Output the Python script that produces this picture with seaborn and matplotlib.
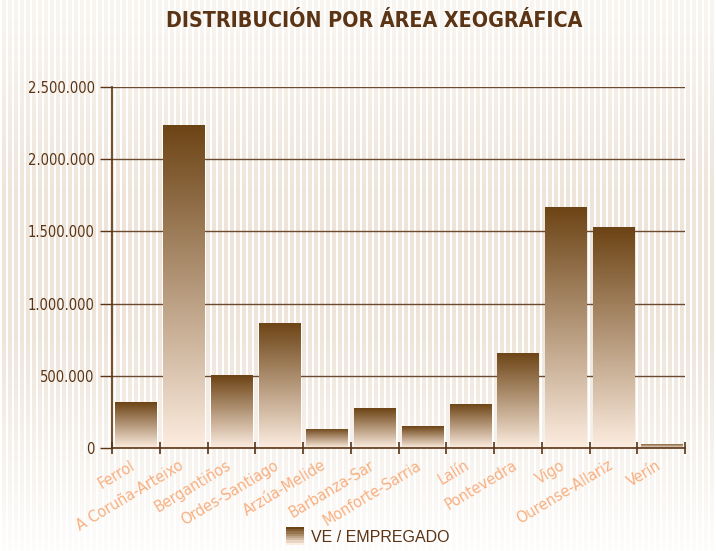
import numpy as np
import pandas as pd
import matplotlib
matplotlib.use("Agg")
import matplotlib.pyplot as plt
import matplotlib.transforms as mtransforms
import seaborn as sns
from matplotlib.colors import LinearSegmentedColormap, to_rgb
from matplotlib.legend_handler import HandlerBase
from matplotlib.patches import Rectangle, Patch
from matplotlib.ticker import FuncFormatter, FixedLocator

# ── data ──
areas = ["Ferrol", "A Coruña-Arteixo", "Bergantiños", "Ordes-Santiago",
         "Arzúa-Melide", "Barbanza-Sar", "Monforte-Sarria", "Lalín",
         "Pontevedra", "Vigo", "Ourense-Allariz", "Verín"]
ve_empregado = [318000, 2237000, 505000, 866000, 132000, 277000,
                152000, 305000, 658000, 1669000, 1530000, 28000]
series_name = "VE / EMPREGADO"
y_ticks = [0, 500000, 1000000, 1500000, 2000000, 2500000]

title = "DISTRIBUCIÓN POR ÁREA XEOGRÁFICA"

# ── style ──
DARK = "#5a3414"
GRID = "#6b4a30"
PEACH = "#f7b081"
BAR_TOP = "#6c4314"
BAR_BOT = "#fdede0"
NARROW = ["DejaVu Sans"]

sns.set_theme(style="white")
plt.rcParams["font.family"] = ["Liberation Sans", "DejaVu Sans"]

W, H, DPI = 716, 551, 100
fig = plt.figure(figsize=(W / DPI, H / DPI), dpi=DPI)

# striped background fading towards the bottom
yy = np.arange(H)
fade = np.interp(yy, [0, 60, 200, 330, 470, 551], [0.30, 0.45, 0.85, 0.85, 0.35, 0.05])
stripe = ((np.arange(W) % 6) >= 2).astype(float)
beige = np.array(to_rgb("#ebe0d3"))
amount = fade[:, None] * stripe[None, :]
bg = 1 - amount[..., None] * (1 - beige[None, None, :])
fig.figimage(bg, xo=0, yo=0, origin="upper", zorder=-10)

ax = fig.add_axes([112 / W, 1 - 448 / H, 573 / W, 361 / H])
ax.set_facecolor("none")

df = pd.DataFrame({"area": areas, "value": ve_empregado})
sns.barplot(data=df, x="area", y="value", color=BAR_TOP, width=0.86,
            saturation=1, ax=ax, zorder=2)

# vertical gradient inside each bar
cmap = LinearSegmentedColormap.from_list("bar", [BAR_BOT, BAR_TOP])
grad = np.linspace(0, 1, 256)[:, None]
for p in list(ax.patches):
    x0, y0 = p.get_x(), p.get_y()
    w, h = p.get_width(), p.get_height()
    im = ax.imshow(grad, cmap=cmap, origin="lower", aspect="auto",
                   extent=[x0, x0 + w, y0, y0 + h], zorder=2)
    im.set_clip_path(p)
    p.set_facecolor("none")
    p.set_edgecolor("none")
ax.set_xlim(-0.5, len(areas) - 0.5)
ax.set_ylim(0, 2500000)

# axes, grid and ticks
ax.set_yticks(y_ticks)
ax.yaxis.set_major_formatter(FuncFormatter(lambda v, _: f"{int(v):,}".replace(",", ".")))
ax.yaxis.grid(True, color=GRID, linewidth=1)
ax.set_axisbelow(True)
ax.tick_params(axis="y", direction="out", length=8.5, width=1, color=DARK,
               pad=4, labelsize=10.5, labelcolor=DARK, left=True)
for lab in ax.get_yticklabels():
    lab.set_family(NARROW)
    lab.set_stretch("condensed")

ax.xaxis.set_minor_locator(FixedLocator(np.arange(-0.5, len(areas), 1.0)))
ax.tick_params(axis="x", which="minor", direction="inout", length=9,
               width=1.2, color=DARK, bottom=True)
ax.tick_params(axis="x", which="major", length=0, pad=6, labelsize=11.5,
               labelcolor=PEACH)
ax.set_xticks(range(len(areas)))
ax.set_xticklabels(areas, rotation=31, ha="right", va="top",
                   rotation_mode="anchor", family=NARROW, stretch="condensed")
shift = mtransforms.ScaledTranslation(-4 / 72, -1 / 72, fig.dpi_scale_trans)
for lab in ax.get_xticklabels():
    lab.set_transform(lab.get_transform() + shift)

for s in ["top", "right"]:
    ax.spines[s].set_visible(False)
for s in ["left", "bottom"]:
    ax.spines[s].set_color(DARK)
    ax.spines[s].set_linewidth(1.2)
ax.set_xlabel("")
ax.set_ylabel("")

fig.text(374 / W, 1 - 21 / H, title, ha="center", va="center",
         fontsize=15.3, fontweight="bold", color=DARK, family=NARROW,
         stretch="condensed")


# legend with a banded gradient swatch
class GradientHandler(HandlerBase):
    def create_artists(self, legend, orig_handle, xdescent, ydescent,
                       width, height, fontsize, trans):
        n = 8
        side = 13.0
        x0 = -xdescent + (width - side) / 2
        y0 = -ydescent + (height - side) / 2
        arts = []
        for i in range(n):
            c = cmap(1 - i / (n - 1))
            arts.append(Rectangle((x0, y0 + side * (n - 1 - i) / n), side, side / n,
                                  facecolor=c, edgecolor="none", transform=trans))
        return arts


handle = Patch(label=series_name)
leg = fig.legend(handles=[handle], labels=[series_name],
                 handler_map={Patch: GradientHandler()},
                 loc="center", bbox_to_anchor=(367 / W, 1 - 537 / H),
                 frameon=False, fontsize=11.5, handlelength=1.2,
                 handletextpad=0.4)
for t in leg.get_texts():
    t.set_color(DARK)

fig.savefig("out.png", dpi=DPI)
